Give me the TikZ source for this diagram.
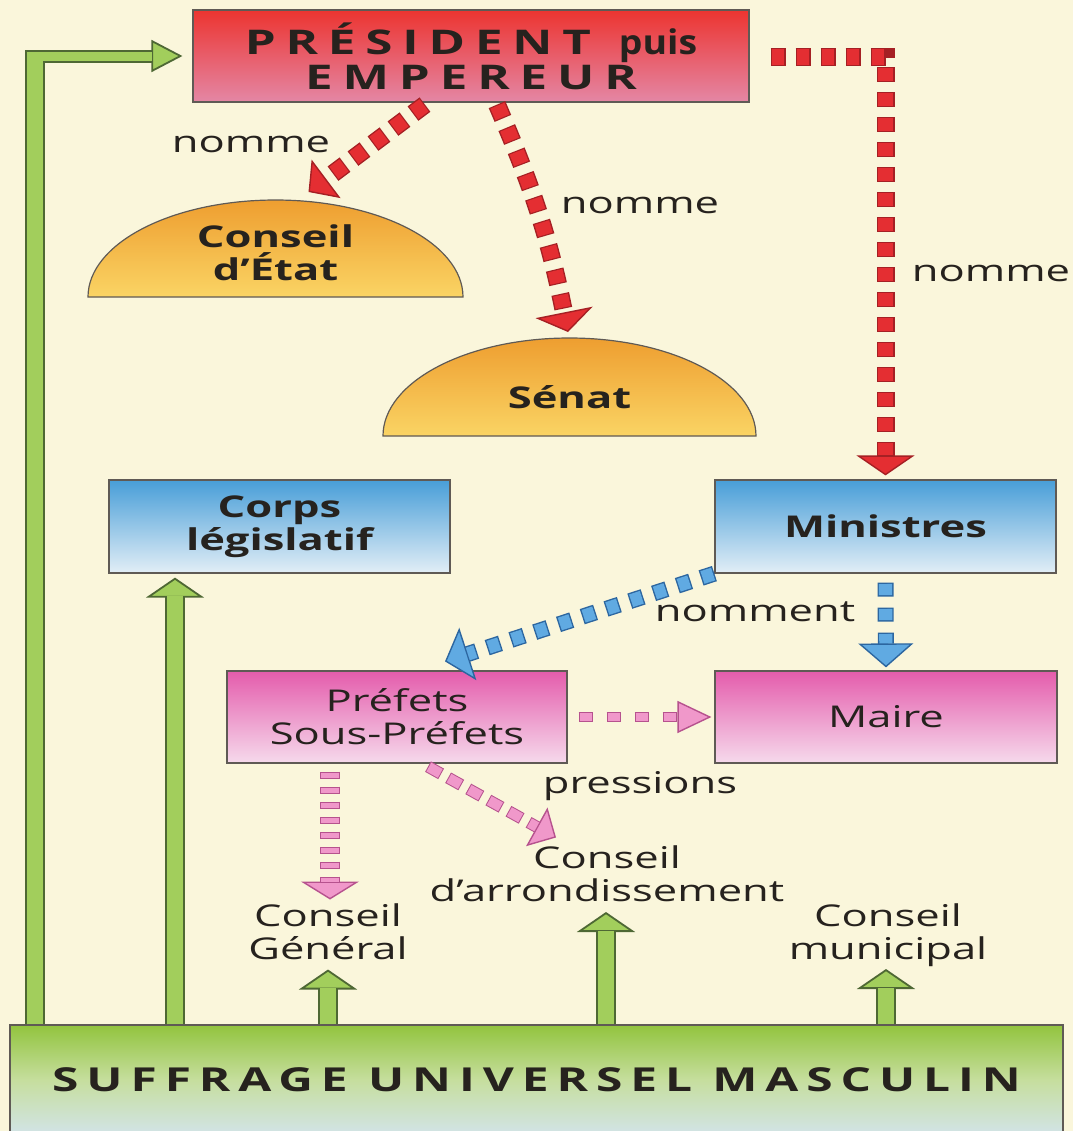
\documentclass[tikz,border=0pt]{standalone}
\usepackage{fontspec}
\setmainfont{Open Sans}[FakeStretch=1.45]
\newfontfamily\spacedfont{Open Sans}[FakeStretch=1.45,LetterSpace=29]
\newfontfamily\sufffont{Open Sans}[FakeStretch=1.45,LetterSpace=24]
\newfontfamily\narrowfont{Open Sans}[FakeStretch=1.1]
\usetikzlibrary{arrows.meta,calc}
\definecolor{bg}{RGB}{250,246,219}
\definecolor{txt}{RGB}{38,34,30}
\definecolor{boxline}{RGB}{95,90,85}
\definecolor{redtop}{RGB}{236,52,48}
\definecolor{redbot}{RGB}{228,135,165}
\definecolor{domeO}{RGB}{238,158,48}
\definecolor{domeY}{RGB}{250,212,100}
\definecolor{btop}{RGB}{72,158,216}
\definecolor{bbot}{RGB}{226,238,246}
\definecolor{ptop}{RGB}{228,92,172}
\definecolor{pbot}{RGB}{246,218,236}
\definecolor{stop}{RGB}{146,196,62}
\definecolor{smid}{RGB}{198,222,158}
\definecolor{sbot}{RGB}{210,228,232}
\definecolor{gfill}{RGB}{162,206,92}
\definecolor{gdark}{RGB}{78,104,52}
\definecolor{rfill}{RGB}{228,46,50}
\definecolor{rdark}{RGB}{165,32,36}
\definecolor{bfill}{RGB}{96,170,226}
\definecolor{bdark}{RGB}{44,102,160}
\definecolor{pfill}{RGB}{240,152,202}
\definecolor{pdark}{RGB}{182,82,142}
\begin{document}
\begin{tikzpicture}[x=0.5pt,y=-0.5pt,
  box/.style={draw=boxline, line width=0.6pt, inner sep=0pt, align=center, text=txt,
    font=\bfseries\fontsize{15}{16.5}\selectfont, minimum width=170.5pt, minimum height=46.5pt},
  lbl/.style={inner sep=0pt, align=center, text=txt, font=\fontsize{15}{16.5}\selectfont},
  boldlbl/.style={lbl, font=\bfseries\fontsize{15}{16.5}\selectfont},
  dome/.style={draw=boxline, line width=0.6pt, top color=domeO, bottom color=domeY},
  gdk/.style={draw=gdark},
  glt/.style={draw=gfill},
  gup/.style={draw=gdark, line width=10pt, -{Triangle[length=10pt,width=29pt,fill=gfill,line width=0.9pt]},
    postaction={draw=gfill, line width=8pt, -, shorten >=9.3pt}},
  rdash/.style={draw=rdark, line width=9pt, dash pattern=on 7.5pt off 5pt,
    -{Triangle[length=10pt,width=29pt,fill=rfill,line width=0.7pt]},
    postaction={draw=rfill, -, line width=7.6pt, dash pattern=on 6.3pt off 6.2pt, dash phase=11.9pt, shorten >=10pt}},
  bdash/.style={draw=bdark, line width=8pt, dash pattern=on 7pt off 5.5pt,
    -{Triangle[length=12pt,width=27.5pt,fill=bfill,line width=0.7pt]},
    postaction={draw=bfill, -, line width=6.6pt, dash pattern=on 5.6pt off 6.9pt, dash phase=11.8pt, shorten >=12pt}},
  pdv/.style={draw=pdark, line width=10pt, dash pattern=on 3.5pt off 4pt,
    -{Triangle[length=9pt,width=29pt,fill=pfill,line width=0.7pt]},
    postaction={draw=pfill, -, line width=8.8pt, dash pattern=on 2.5pt off 5pt, dash phase=7pt, shorten >=9pt}},
  pdh/.style={draw=pdark, line width=5pt, dash pattern=on 7pt off 7pt,
    -{Triangle[length=17pt,width=16pt,fill=pfill,line width=0.7pt]},
    postaction={draw=pfill, -, line width=4pt, dash pattern=on 6pt off 8pt, dash phase=13.5pt, shorten >=17pt}},
  pdd/.style={draw=pdark, line width=6pt, dash pattern=on 7.5pt off 4pt,
    -{Triangle[length=11pt,width=22pt,fill=pfill,line width=0.7pt]},
    postaction={draw=pfill, -, line width=5pt, dash pattern=on 6.5pt off 5pt, dash phase=11pt, shorten >=11pt}}
]
\fill[bg] (0,0) rectangle (1073,1131);
\useasboundingbox (0,0) rectangle (1073,1131);

% domes
\coordinate (cebase) at (275.5,297);
\path[dome] ($(cebase)+(-187.5,0)$) arc[start angle=180,end angle=0,x radius=93.75pt,y radius=48.5pt] -- cycle;
\node[boldlbl] (ce) at ($(cebase)+(0,-44)$) {Conseil\\d’État};
\coordinate (sbase) at (569.5,436);
\path[dome] ($(sbase)+(-186.5,0)$) arc[start angle=180,end angle=0,x radius=93.25pt,y radius=49pt] -- cycle;
\node[boldlbl] (senat) at ($(sbase)+(0,-39)$) {Sénat};

% boxes
\node[box, top color=redtop, bottom color=redbot, minimum width=278pt, minimum height=46pt,
  font=\bfseries\fontsize{17}{17.5}\selectfont] (pres) at (471,56)
  {{\spacedfont PRÉSIDENT}\hspace{14pt}{\narrowfont puis}\\{\spacedfont EMPEREUR}};
\node[box, top color=btop, bottom color=bbot] (corps) at (279.5,526.5) {Corps\\législatif};
\node[box, top color=btop, bottom color=bbot] (mini) at (885.5,526.5) {Ministres};
\node[box, top color=ptop, bottom color=pbot, minimum width=170pt, minimum height=46pt,
  font=\fontsize{15}{16.5}\selectfont] (pref) at (397,717) {Préfets\\Sous-Préfets};
\node[box, top color=ptop, bottom color=pbot, minimum width=171pt, minimum height=46pt,
  font=\fontsize{15}{16.5}\selectfont] (maire) at (886,717) {Maire};
\node[box, top color=stop, bottom color=sbot, middle color=smid, minimum width=526.5pt, minimum height=55pt,
  font=\bfseries\fontsize{16.5}{17}\selectfont] (suf) at (536.5,1080) {\sufffont SUFFRAGE UNIVERSEL MASCULIN};

% labels
\node[lbl, anchor=base] (l1) at (251,152) {nomme};
\node[lbl, anchor=base] (l2) at (640,213) {nomme};
\node[lbl, anchor=base] (l3) at (991,281) {nomme};
\node[lbl, anchor=base] (l4) at (755,621) {nomment};
\node[lbl, anchor=base] (l5) at (640,793) {pressions};
\node[lbl] (cg) at (328,931.5) {Conseil\\Général};
\node[lbl] (ca) at (607,873.5) {Conseil\\d’arrondissement};
\node[lbl] (cm) at (888,935) {Conseil\\municipal};

% green arrows
\coordinate (lc) at (35,56);
\draw[gdk, line width=6.5pt, -{Triangle[length=15.5pt,width=16pt,fill=gfill,line width=0.9pt]}]
  ($(lc)+(-10,0)$) -- ($(pres.west)+(-10,0)$);
\draw[gdk, line width=10pt] (lc |- suf.north) -- ($(lc)+(0,-6.5)$);
\draw[glt, line width=8pt] (lc |- suf.north) -- ($(lc)+(0,-4.5)$);
\draw[glt, line width=4.5pt] ($(lc)+(-8,0)$) -- ($(pres.west)+(-40,0)$);
\coordinate (gc) at ($(corps.south)+(-104.5,4)$);
\draw[gup] (gc |- suf.north) -- (gc);
\coordinate (gg) at ($(cg.center)+(0,38)$);
\draw[gup] (gg |- suf.north) -- (gg);
\coordinate (ga) at ($(ca.center)+(-1,38.5)$);
\draw[gup] (ga |- suf.north) -- (ga);
\coordinate (gm) at ($(cm.center)+(-2,34)$);
\draw[gup] (gm |- suf.north) -- (gm);

% red arrows
\draw[rdash, -{Triangle[length=11pt,width=24pt,fill=rfill,line width=0.7pt]}]
  ($(pres.south)+(-46,2)$) -- ($(cebase)+(33,-105)$);
\draw[rdash] ($(pres.south)+(26,2)$) to[bend left=6] ($(sbase)+(-1.5,-104)$);
\draw[rdash] ($(pres.east)+(21,1)$) -| ($(mini.north)+(0,-4)$);

% blue arrows
\draw[bdash] (mini.south west) -- ($(pref.north)+(48,-9)$);
\draw[bdash] ($(mini.south)+(0,9)$) -- ($(maire.north)+(0,-3)$);

% pink arrows
\draw[pdh] ($(pref.east)+(11,0)$) -- ($(maire.west)+(-3,0)$);
\draw[pdv] ($(pref.south -| cg.north)+(2,8)$) -- ($(cg.center)+(2,-32)$);
\draw[pdd] ($(pref.south)+(31,3)$) -- ($(ca.center)+(-51,-36)$);
\end{tikzpicture}
\end{document}
